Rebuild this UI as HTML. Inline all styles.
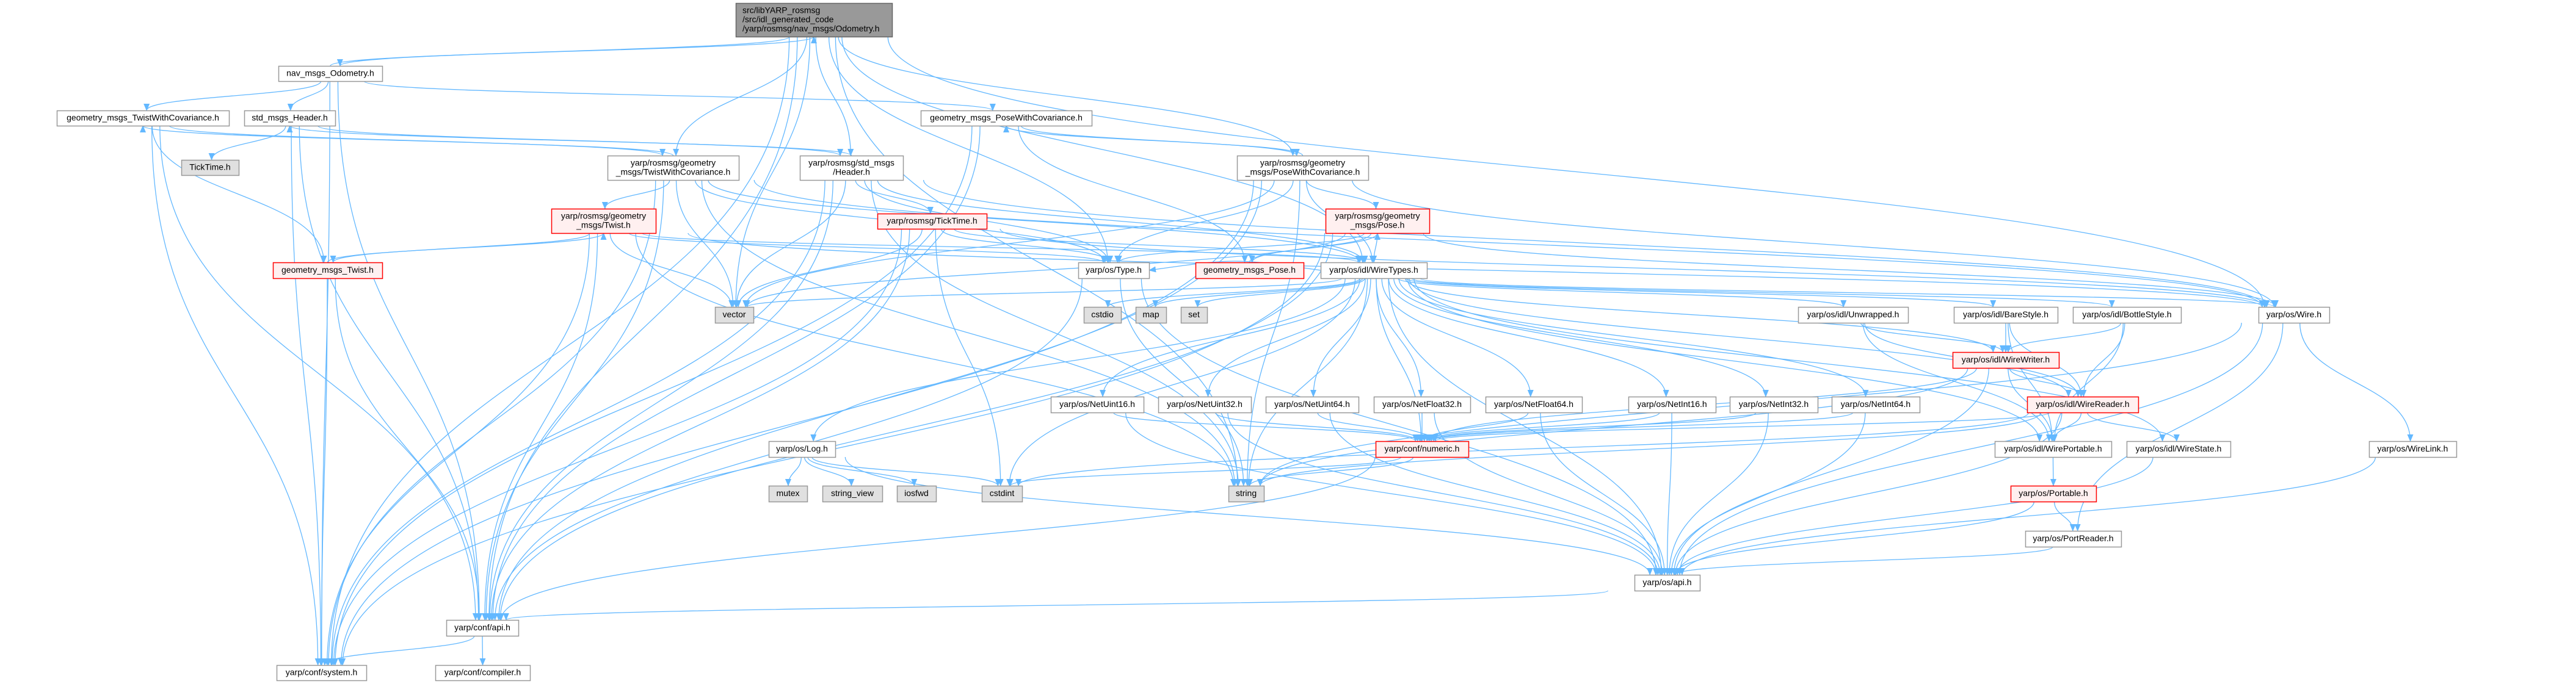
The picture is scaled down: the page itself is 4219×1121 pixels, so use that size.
<!DOCTYPE html>
<html><head><meta charset="utf-8"><style>
html,body{margin:0;padding:0;background:#fff;}
svg{display:block;}
text{font-family:"Liberation Sans",sans-serif;font-size:14px;fill:#000;}
</style></head><body>
<svg id="g" width="4219" height="1121" viewBox="0 0 4219 1121" xmlns="http://www.w3.org/2000/svg">
<defs><marker id="a" markerWidth="12" markerHeight="10" refX="11" refY="5" orient="auto" markerUnits="userSpaceOnUse"><path d="M0,0 L12,5 L0,10 z" fill="#63b8ff"/></marker></defs>
<g id="edges" fill="none" stroke="#63b8ff" stroke-width="1.3"></g>
<g id="nodes"></g>
</svg>
<script>
(function(){
var N={
main:[1205,5,1461,60,["src/libYARP_rosmsg","/src/idl_generated_code","/yarp/rosmsg/nav_msgs/Odometry.h"],"m"],
navOdo:[456,108,626,133,["nav_msgs_Odometry.h"],"w"],
gTwistCov:[93,181,375,206,["geometry_msgs_TwistWithCovariance.h"],"w"],
stdHeader:[400,181,549,206,["std_msgs_Header.h"],"w"],
gPoseCov:[1508,181,1788,206,["geometry_msgs_PoseWithCovariance.h"],"w"],
TickTimeG:[297,262,391,287,["TickTime.h"],"g"],
rosTwistCov:[995,255,1210,295,["yarp/rosmsg/geometry","_msgs/TwistWithCovariance.h"],"w"],
rosHeader:[1310,255,1479,295,["yarp/rosmsg/std_msgs","/Header.h"],"w"],
rosPoseCov:[2026,255,2241,295,["yarp/rosmsg/geometry","_msgs/PoseWithCovariance.h"],"w"],
rosTwist:[903,342,1074,382,["yarp/rosmsg/geometry","_msgs/Twist.h"],"r"],
rosTickTime:[1437,350,1616,375,["yarp/rosmsg/TickTime.h"],"r"],
rosPose:[2171,342,2341,382,["yarp/rosmsg/geometry","_msgs/Pose.h"],"r"],
gTwist:[447,430,626,456,["geometry_msgs_Twist.h"],"r"],
Type:[1766,430,1882,456,["yarp/os/Type.h"],"w"],
gPose:[1958,430,2135,456,["geometry_msgs_Pose.h"],"r"],
WireTypes:[2163,430,2337,456,["yarp/os/idl/WireTypes.h"],"w"],
vector:[1171,503,1234,529,["vector"],"g"],
cstdio:[1775,503,1836,529,["cstdio"],"g"],
map:[1860,503,1910,529,["map"],"g"],
set:[1934,503,1977,529,["set"],"g"],
Unwrapped:[2945,503,3125,529,["yarp/os/idl/Unwrapped.h"],"w"],
BareStyle:[3200,503,3370,529,["yarp/os/idl/BareStyle.h"],"w"],
BottleStyle:[3395,503,3572,529,["yarp/os/idl/BottleStyle.h"],"w"],
Wire:[3699,503,3815,529,["yarp/os/Wire.h"],"w"],
WireWriter:[3198,577,3372,603,["yarp/os/idl/WireWriter.h"],"r"],
NetUint16:[1721,650,1873,676,["yarp/os/NetUint16.h"],"w"],
NetUint32:[1897,650,2049,676,["yarp/os/NetUint32.h"],"w"],
NetUint64:[2073,650,2225,676,["yarp/os/NetUint64.h"],"w"],
NetFloat32:[2250,650,2408,676,["yarp/os/NetFloat32.h"],"w"],
NetFloat64:[2433,650,2591,676,["yarp/os/NetFloat64.h"],"w"],
NetInt16:[2667,650,2810,676,["yarp/os/NetInt16.h"],"w"],
NetInt32:[2833,650,2977,676,["yarp/os/NetInt32.h"],"w"],
NetInt64:[3000,650,3144,676,["yarp/os/NetInt64.h"],"w"],
WireReader:[3320,650,3502,676,["yarp/os/idl/WireReader.h"],"r"],
Log:[1259,723,1368,749,["yarp/os/Log.h"],"w"],
numeric:[2253,723,2405,749,["yarp/conf/numeric.h"],"r"],
WirePortable:[3267,723,3458,749,["yarp/os/idl/WirePortable.h"],"w"],
WireState:[3483,723,3653,749,["yarp/os/idl/WireState.h"],"w"],
WireLink:[3880,723,4023,749,["yarp/os/WireLink.h"],"w"],
mutex:[1259,796,1322,822,["mutex"],"g"],
string_view:[1347,796,1445,822,["string_view"],"g"],
iosfwd:[1469,796,1533,822,["iosfwd"],"g"],
cstdint:[1608,796,1674,822,["cstdint"],"g"],
string:[2012,796,2070,822,["string"],"g"],
Portable:[3293,796,3433,822,["yarp/os/Portable.h"],"r"],
PortReader:[3317,870,3474,896,["yarp/os/PortReader.h"],"w"],
osapi:[2677,942,2784,968,["yarp/os/api.h"],"w"],
apih:[731,1016,849,1042,["yarp/conf/api.h"],"w"],
sysh:[453,1090,600,1115,["yarp/conf/system.h"],"w"],
compiler:[713,1090,868,1115,["yarp/conf/compiler.h"],"w"]
};
var E={
main:["navOdo","sysh","apih","vector","Type","rosHeader","rosTwistCov","rosPoseCov","Wire","string","WireTypes"],
navOdo:["main","gTwistCov","stdHeader","gPoseCov","apih","sysh"],
gTwistCov:["rosTwistCov","gTwist","sysh","apih"],
stdHeader:["TickTimeG","rosHeader","sysh","apih"],
gPoseCov:["rosPoseCov","gPose","sysh","apih"],
rosTwistCov:["rosTwist","vector","Type","WireTypes","Wire","string","apih","sysh","gTwistCov"],
rosHeader:["rosTickTime","vector","Type","WireTypes","Wire","string","apih","sysh","stdHeader"],
rosPoseCov:["rosPose","vector","Type","WireTypes","Wire","string","apih","sysh","gPoseCov"],
rosTwist:["gTwist","vector","Type","WireTypes","Wire","string","apih","sysh"],
rosPose:["gPose","vector","Type","WireTypes","Wire","sysh","apih"],
gTwist:["rosTwist","apih","sysh"],
gPose:["rosPose"],
rosTickTime:["vector","Type","WireTypes","Wire","apih","sysh","cstdint"],
Type:["apih","osapi","string"],
WireTypes:["vector","cstdio","map","set","string","cstdint","Log","NetUint16","NetUint32","NetUint64","NetFloat32","NetFloat64","NetInt16","NetInt32","NetInt64","numeric","Unwrapped","BareStyle","BottleStyle","Wire","WireWriter","WireReader","WirePortable","WireState","osapi","Type"],
Log:["mutex","string_view","iosfwd","cstdint","osapi"],
NetUint16:["numeric","osapi"],NetUint32:["numeric","osapi"],NetUint64:["numeric","osapi"],
NetFloat32:["numeric","osapi"],NetFloat64:["numeric","osapi"],
NetInt16:["numeric","osapi"],NetInt32:["numeric","osapi"],NetInt64:["numeric","osapi"],
numeric:["apih","cstdint","string"],
Unwrapped:["WireWriter","WireReader","WirePortable"],
BareStyle:["WireWriter","WireReader","WirePortable"],
BottleStyle:["WireWriter","WireReader","WirePortable"],
WireWriter:["WireReader","WirePortable","numeric","string","osapi"],
WireReader:["WirePortable","WireState","numeric","string","osapi","cstdint"],
WirePortable:["Portable"],
Portable:["PortReader","osapi"],
PortReader:["osapi"],
WireState:["osapi"],
Wire:["WireLink","PortReader","string","osapi"],
WireLink:["osapi"],
osapi:["apih"],
apih:["sysh","compiler"]
};
var NS="http://www.w3.org/2000/svg";
var eg=document.getElementById("edges"),ng=document.getElementById("nodes");
function el(t,a,p){var e=document.createElementNS(NS,t);for(var k in a)e.setAttribute(k,a[k]);p.appendChild(e);return e;}
for(var s in E){E[s].forEach(function(t){
 var A=N[s],B=N[t];if(!A||!B)return;
 var acx=(A[0]+A[2])/2,bcx=(B[0]+B[2])/2,acy=(A[1]+A[3])/2,bcy=(B[1]+B[3])/2,d,sx,tx,sy,ty,m;
 if(Math.abs(acy-bcy)<15){
  if(bcx>acx){sx=A[2];tx=B[0];}else{sx=A[0];tx=B[2];}
  d="M"+sx+","+acy+" C"+((sx+tx)/2)+","+(acy-20)+" "+((sx+tx)/2)+","+(bcy-20)+" "+tx+","+bcy;
 } else if(bcy>acy){
  sx=acx+(bcx-acx)*0.05;
  tx=bcx+(acx-bcx)*0.02;
  tx=Math.max(B[0]+6,Math.min(B[2]-6,tx));
  sy=A[3];ty=B[1];m=(sy+ty)/2;
  d="M"+sx+","+sy+" C"+sx+","+m+" "+tx+","+m+" "+tx+","+ty;
 } else {
  sy=A[1];ty=B[3];m=(sy+ty)/2;
  d="M"+acx+","+sy+" C"+acx+","+m+" "+bcx+","+m+" "+bcx+","+ty;
 }
 el("path",{d:d,"marker-end":"url(#a)"},eg);
});}
for(var k in N){(function(n){
 var st={w:["#ffffff","#999999"],g:["#e0e0e0","#999999"],r:["#fff0f0","#ff0000"],m:["#999999","#666666"]}[n[5]];
 el("rect",{x:n[0]+0.5,y:n[1]+0.5,width:n[2]-n[0],height:n[3]-n[1],fill:st[0],stroke:st[1],"stroke-width":1.5},ng);
 var L=n[4],h=n[3]-n[1],lh=15,y0=n[1]+h/2-(L.length*lh)/2+lh-3.5;
 L.forEach(function(s,i){
  var t;
  if(n[5]=="m") t=el("text",{x:n[0]+11,y:y0+i*lh},ng);
  else t=el("text",{x:(n[0]+n[2])/2,y:y0+i*lh,"text-anchor":"middle"},ng);
  t.textContent=s;
 });
})(N[k]);}
})();
</script>
</body></html>
